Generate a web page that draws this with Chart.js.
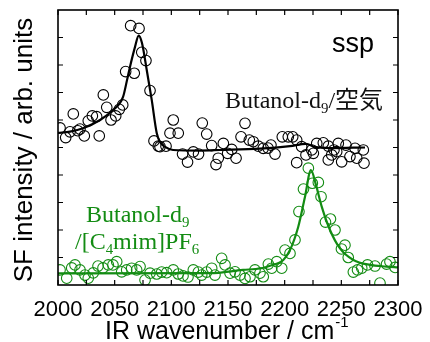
<!DOCTYPE html>
<html>
<head>
<meta charset="utf-8">
<script src="https://cdn.jsdelivr.net/npm/chart.js@4/dist/chart.umd.min.js"></script>
<style>
  body { margin: 0; background: #fff; }
  #wrap { width: 430px; height: 342px; }
</style>
</head>
<body>
<div id="wrap"><canvas id="chart" width="430" height="342"></canvas></div>
<script>
// Butanol-d9 / air (black circles) and its fit
const blackX = [2001.8, 2006.8, 2010.6, 2013.5, 2017.4, 2019.4, 2023.2, 2026.7, 2030.3, 2034.1,
    2036.4, 2040.0, 2043.0, 2046.8, 2050.9, 2054.1, 2057.1, 2059.7, 2064.1, 2067.3,
    2071.5, 2073.9, 2077.6, 2081.2, 2084.7, 2088.5, 2090.0, 2095.3, 2098.8, 2101.7,
    2106.1, 2109.9, 2114.3, 2119.4, 2124.0, 2127.3, 2131.2, 2135.6, 2139.4, 2141.4,
    2145.9, 2149.7, 2153.3, 2157.1, 2161.5, 2165.0, 2168.8, 2172.3, 2176.7, 2181.1,
    2185.3, 2187.9, 2191.5, 2197.9, 2203.2, 2207.1, 2210.6, 2210.6, 2215.0, 2218.8,
    2223.9, 2225.3, 2228.3, 2234.1, 2238.5, 2238.5, 2241.5, 2243.5, 2245.9, 2247.3,
    2250.3, 2254.1, 2257.6, 2262.1, 2263.6, 2269.4, 2270.0];
const blackY = [5.71, 5.36, 5.57, 6.22, 5.61, 5.67, 5.42, 5.97, 6.15, 6.12,
    5.42, 6.91, 6.46, 6.00, 6.15, 6.39, 6.55, 7.76, 9.43, 7.70,
    9.33, 8.46, 8.16, 7.07, 5.24, 5.05, 5.03, 5.05, 5.52, 6.00,
    5.52, 4.76, 4.47, 4.84, 4.76, 5.89, 5.49, 5.07, 4.38, 4.61,
    5.15, 4.79, 4.93, 4.61, 5.39, 5.88, 5.27, 5.21, 5.05, 4.97,
    4.98, 5.09, 4.76, 5.39, 5.39, 5.39, 5.27, 4.45, 5.03, 4.73,
    4.91, 4.79, 5.15, 5.17, 5.05, 4.55, 4.73, 4.91, 4.85, 5.15,
    4.48, 5.09, 4.67, 4.97, 4.61, 4.91, 4.43];
const blackFitX = [2000, 2010.6, 2022.1, 2037.1, 2048.5, 2057.4, 2060.9, 2063.5, 2067.9, 2071.2,
    2074.1, 2078.3, 2082.7, 2087.1, 2090.0, 2094.5, 2101.5, 2125.3, 2142.9, 2178.2,
    2204.7, 2218.8, 2226.8, 2240.0, 2270.9];
const blackFitY = [5.53, 5.58, 5.70, 6.00, 6.36, 6.84, 7.45, 7.93, 8.65, 9.07,
    8.80, 7.82, 6.73, 5.53, 5.20, 5.02, 4.91, 4.89, 4.91, 4.96,
    5.05, 5.13, 5.02, 4.98, 5.00];

// Butanol-d9 / [C4mim]PF6 (green circles) and its fit
const greenX = [2001.8, 2007.7, 2012.1, 2015.0, 2019.4, 2023.8, 2026.7, 2031.1, 2035.3, 2039.7,
    2044.4, 2048.5, 2051.8, 2056.2, 2060.6, 2065.0, 2069.4, 2072.4, 2076.8, 2081.2,
    2087.1, 2091.5, 2095.9, 2101.7, 2106.1, 2110.3, 2114.7, 2119.4, 2123.8, 2126.8,
    2131.2, 2135.6, 2138.5, 2144.4, 2147.4, 2151.8, 2156.2, 2160.6, 2165.0, 2169.4,
    2173.8, 2178.2, 2181.1, 2185.6, 2188.6, 2193.0, 2197.4, 2200.3, 2204.7, 2209.1,
    2212.6, 2216.6, 2220.9, 2224.4, 2229.7, 2232.1, 2236.0, 2240.4, 2244.4, 2250.1,
    2253.2, 2256.1, 2260.6, 2264.3, 2268.0, 2273.1, 2279.7, 2284.1, 2289.9, 2292.9, 2297.4];
const greenY = [0.55, 0.25, 0.62, 0.73, 0.55, 0.36, 0.25, 0.44, 0.69, 0.62,
    0.73, 0.73, 0.85, 0.48, 0.55, 0.61, 0.55, 0.67, 0.18, 0.43,
    0.40, 0.47, 0.45, 0.55, 0.40, 0.33, 0.29, 0.55, 0.47, 0.36,
    0.47, 0.61, 0.36, 0.97, 0.73, 0.43, 0.48, 0.36, 0.24, 0.30,
    0.55, 0.43, 0.30, 0.76, 0.61, 0.85, 0.61, 1.27, 1.15, 1.64,
    2.67, 3.49, 4.25, 3.70, 3.73, 3.21, 2.29, 2.40, 2.00, 1.31,
    1.45, 1.00, 0.47, 0.55, 0.61, 0.73, 0.69, 0.07, 0.76, 0.85, 0.64];
const greenFitX = [2000, 2134.1, 2163.2, 2178.2, 2187.1, 2198.8, 2204.7, 2212.0, 2217.9, 2223.2,
    2227.6, 2232.7, 2240.0, 2248.8, 2260.6, 2275.3, 2290.0, 2300];
const greenFitY = [0.42, 0.43, 0.55, 0.60, 0.70, 0.91, 1.27, 2.12, 3.20, 4.18,
    3.64, 2.85, 2.00, 1.33, 0.91, 0.73, 0.67, 0.64];

// axes
const xLabelTicks = [2000, 2050, 2100, 2150, 2200, 2250, 2300];
const xMinorTicks = [2025, 2075, 2125, 2175, 2225, 2275];
const yTicks = [1, 2, 3, 4, 5, 6, 7, 8, 9];

const GREEN = '#138c13';
const SANS = '"Liberation Sans", Arial, sans-serif';
const SERIF = '"Liberation Serif", "Times New Roman", "Noto Sans CJK JP", serif';

const toXY = (xs, ys) => xs.map((x, i) => ({ x: x, y: ys[i] }));

// draws a string made of runs, some of them subscripts
function drawRuns(ctx, x, y, runs, size) {
    runs.forEach(r => {
        const sub = r[1];
        ctx.font = (sub ? size * 0.62 : size) + 'px ' + SERIF;
        ctx.fillText(r[0], x, sub ? y + size * 0.2 : y);
        x += ctx.measureText(r[0]).width;
    });
}

const framePlugin = {
    id: 'frame',
    afterDraw(chart) {
        const { ctx, chartArea: a, scales: { x, y } } = chart;
        ctx.save();
        ctx.strokeStyle = '#000';
        ctx.lineWidth = 1.6;
        ctx.strokeRect(a.left, a.top, a.right - a.left, a.bottom - a.top);

        ctx.lineWidth = 1.2;
        ctx.beginPath();
        xLabelTicks.concat(xMinorTicks).forEach(v => {
            const px = x.getPixelForValue(v);
            ctx.moveTo(px, a.bottom); ctx.lineTo(px, a.bottom - 5);
            ctx.moveTo(px, a.top); ctx.lineTo(px, a.top + 5);
        });
        yTicks.forEach(v => {
            const py = y.getPixelForValue(v);
            ctx.moveTo(a.left, py); ctx.lineTo(a.left + 5, py);
            ctx.moveTo(a.right, py); ctx.lineTo(a.right - 5, py);
        });
        ctx.stroke();

        // axis titles
        ctx.fillStyle = '#000';
        ctx.textBaseline = 'alphabetic';
        ctx.save();
        ctx.translate(32, 150);
        ctx.rotate(-Math.PI / 2);
        ctx.textAlign = 'center';
        ctx.font = '26px ' + SANS;
        ctx.fillText('SF intensity / arb. units', 0, 0);
        ctx.restore();

        ctx.textAlign = 'left';
        ctx.font = '25px ' + SANS;
        const xt = 'IR wavenumber / cm';
        const xw = ctx.measureText(xt).width;
        const x0 = 105;
        ctx.fillText(xt, x0, 339);
        ctx.font = '15px ' + SANS;
        ctx.fillText('-1', x0 + xw + 1, 327);

        // annotations
        ctx.font = '27px ' + SANS;
        ctx.textAlign = 'right';
        ctx.fillText('ssp', 374, 52);

        ctx.textAlign = 'left';
        ctx.fillStyle = '#111';
        drawRuns(ctx, 225, 108, [['Butanol-d', false], ['9', true], ['/空気', false]], 24);

        ctx.fillStyle = GREEN;
        drawRuns(ctx, 86, 222, [['Butanol-d', false], ['9', true]], 24);
        drawRuns(ctx, 75, 249, [['/[C', false], ['4', true], ['mim]PF', false], ['6', true]], 24);
        ctx.restore();
    }
};

const pointStyle = color => ({
    showLine: false,
    pointStyle: 'circle',
    pointRadius: 5.3,
    pointHoverRadius: 5.3,
    pointBorderWidth: 1.1,
    pointBorderColor: color,
    pointBackgroundColor: 'rgba(0,0,0,0)'
});
const fitStyle = color => ({
    showLine: true,
    borderColor: color,
    borderWidth: 2.2,
    pointRadius: 0,
    cubicInterpolationMode: 'monotone'
});

new Chart(document.getElementById('chart').getContext('2d'), {
    type: 'scatter',
    data: {
        datasets: [
            Object.assign({ label: 'Butanol-d9/air', data: toXY(blackX, blackY) }, pointStyle('#000')),
            Object.assign({ label: 'Butanol-d9/[C4mim]PF6', data: toXY(greenX, greenY) }, pointStyle(GREEN)),
            Object.assign({ label: 'fit air', data: toXY(blackFitX, blackFitY) }, fitStyle('#000')),
            Object.assign({ label: 'fit IL', data: toXY(greenFitX, greenFitY) }, fitStyle(GREEN))
        ]
    },
    options: {
        responsive: false,
        animation: false,
        layout: { padding: { top: 10, right: 32, left: 0, bottom: 0 } },
        plugins: { legend: { display: false }, tooltip: { enabled: false } },
        scales: {
            x: {
                type: 'linear',
                min: 2000,
                max: 2300,
                grid: { display: false },
                border: { display: false },
                afterBuildTicks: s => { s.ticks = xLabelTicks.map(v => ({ value: v })); },
                ticks: {
                    autoSkip: false,
                    maxRotation: 0,
                    padding: 4,
                    color: '#000',
                    font: { family: SANS, size: 22 },
                    callback: v => String(v)
                },
                afterFit: s => { s.height = 57; }
            },
            y: {
                min: 0,
                max: 10,
                grid: { display: false },
                border: { display: false },
                ticks: { display: false },
                afterFit: s => { s.width = 58; }
            }
        }
    },
    plugins: [framePlugin]
});
</script>
</body>
</html>
